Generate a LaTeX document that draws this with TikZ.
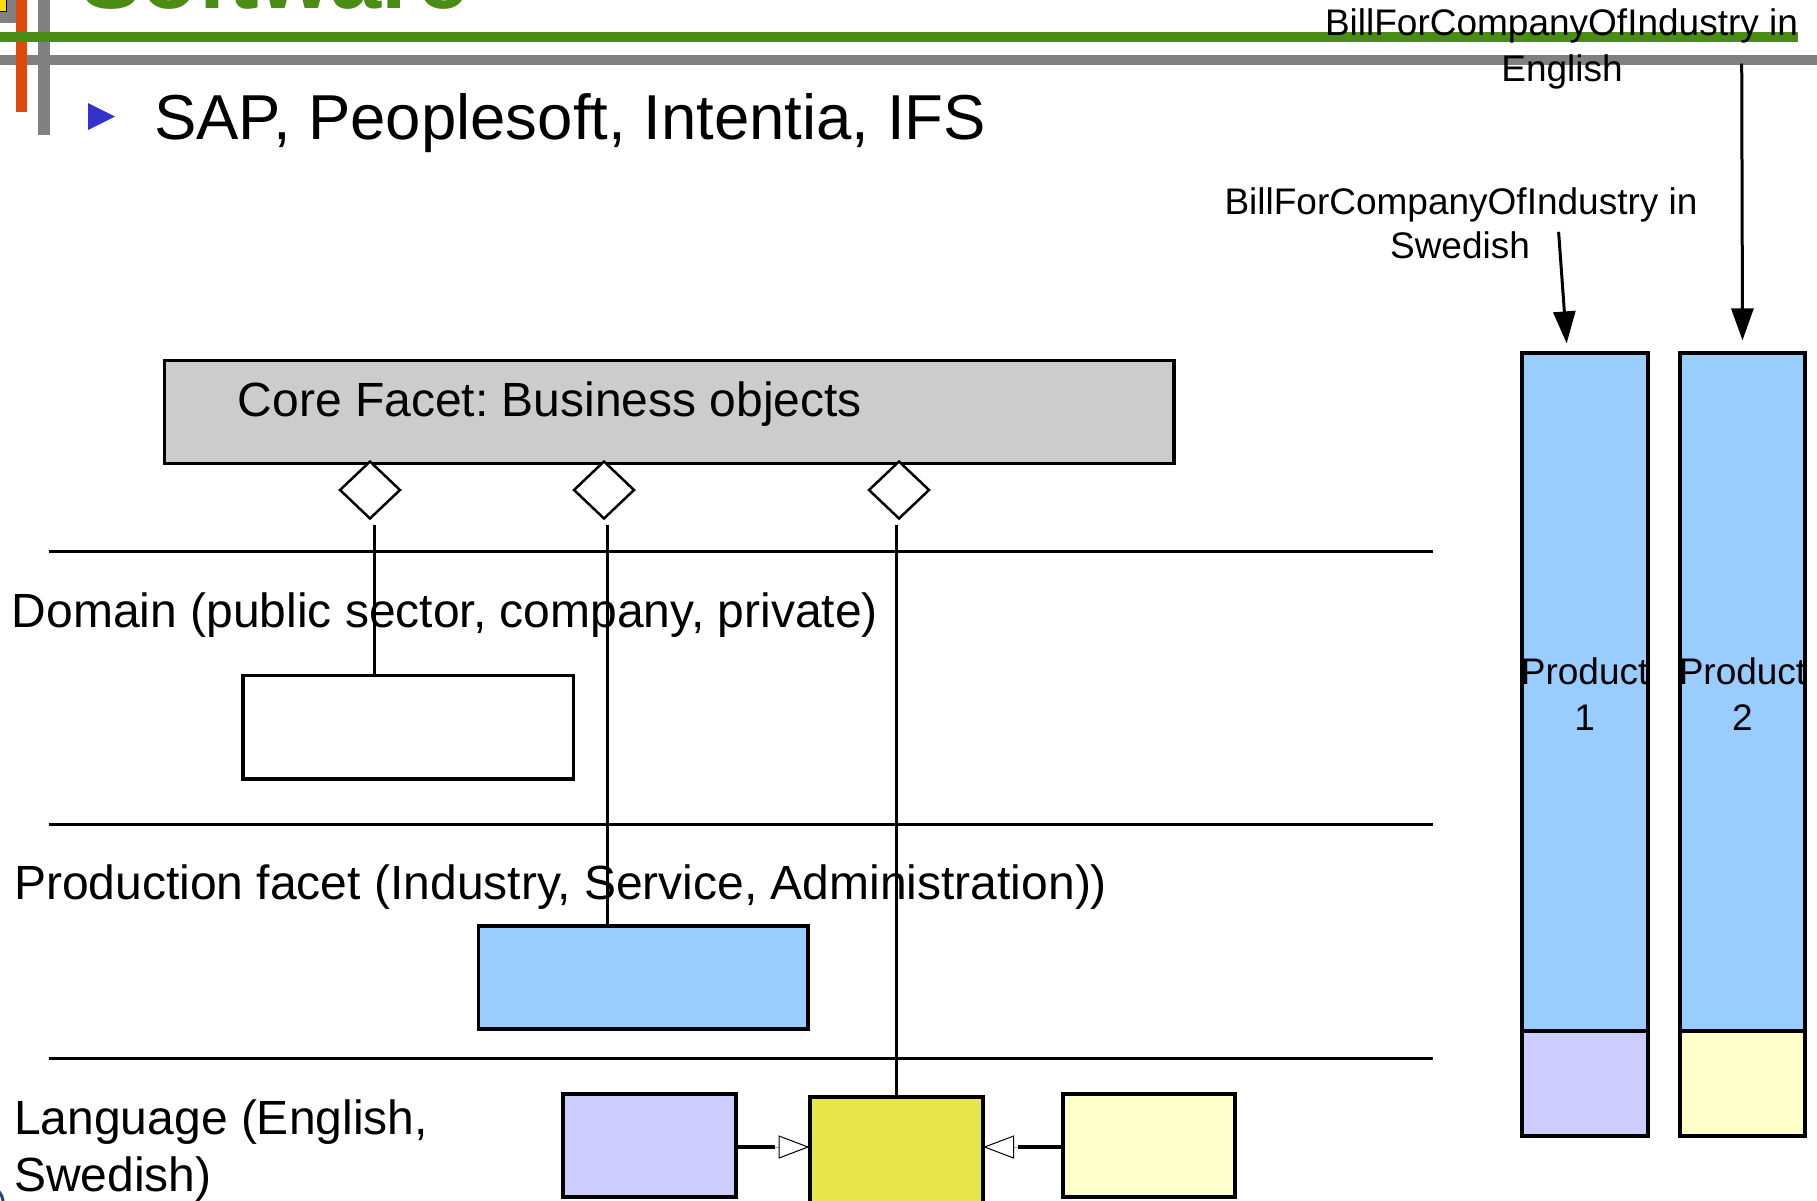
\documentclass[tikz,border=0pt]{standalone}
\usepackage{fontspec}
\setmainfont{Liberation Sans}
\usetikzlibrary{shapes.geometric,arrows.meta}
\frenchspacing
\definecolor{coregray}{HTML}{CCCCCC}
\definecolor{pblue}{HTML}{99CCFF}
\definecolor{plav}{HTML}{CCCCFF}
\definecolor{pyel}{HTML}{E6E64C}
\definecolor{plyel}{HTML}{FFFFCC}
\definecolor{sgreen}{HTML}{4A8C14}
\definecolor{sorange}{HTML}{DD4A10}
\definecolor{sgray}{HTML}{808080}
\definecolor{sbullet}{HTML}{3333CC}
\definecolor{logoblue}{HTML}{24467A}
\begin{document}
\frenchspacing
\begin{tikzpicture}[x=1pt,y=-1pt,
  box/.style n args={2}{draw=black, line width=3.5pt, inner sep=0pt, minimum width=#1pt, minimum height=#2pt},
  dia/.style={draw=black, line width=2.5pt, fill=white, shape=diamond, inner sep=0pt, minimum width=61pt, minimum height=58pt},
  conn/.style={draw=black, line width=3pt},
  sep/.style={draw=black, line width=3pt},
  big/.style={font=\fontsize{48}{56}\selectfont, inner sep=0pt, anchor=base west},
  small/.style={font=\fontsize{37}{45}\selectfont, inner sep=0pt, anchor=base},
  arr/.style={draw=black, line width=3pt, -{Triangle[length=32pt,width=22pt]}},
  hollow/.style={draw=black, line width=1pt, fill=white, line join=miter}
]
\useasboundingbox (0,0) rectangle (1817,1200);
\clip (0,0) rectangle (1817,1200);

% slide decoration
\fill[sgray] (0,0) rectangle (17,23);
\filldraw[fill=yellow!80!orange, draw=black, line width=1pt] (-2,-2) rectangle (6,11);
\draw[sgray, line width=10pt] (0,60) -- (1817,60);
\draw[sgray, line width=12pt] (44,0) -- (44,135);
\draw[sorange, line width=11pt] (21.5,0) -- (21.5,112);
\draw[sgreen, line width=10pt] (0,37) -- (1798,37);
\node[anchor=base west, text=sgreen, font=\bfseries\fontsize{92}{100}\selectfont, inner sep=0pt] (title) at (80,8.5) {Software};
\draw[logoblue, line width=3pt] (-12,1202) circle (15);

% bullet
\fill[sbullet] (88,103) -- (115,116.5) -- (88,130) -- cycle;
\node[anchor=base west, font=\fontsize{63.5}{74}\selectfont, inner sep=0pt] (sap) at (154,139) {SAP, Peoplesoft, Intentia, IFS};

% separators
\draw[sep] (48.7,551.6) -- (1433.4,551.6);
\draw[sep] (48.7,824) -- (1433.4,824);
\draw[sep] (48.7,1058) -- (1433.4,1058);

% core facet
\node[box={1009.5}{103}, fill=coregray] (core) at (669.3,412) {};
\node[big] (coretxt) at (237.6,416) {Core Facet: Business objects};

% diamonds
\node[dia] (d1) at (370,490) {};
\node[dia] (d2) at (604,490) {};
\node[dia] (d3) at (899,490) {};

% level labels
\node[big] (domtxt) at (11.6,627) {Domain (public sector, company, private)};
\node[big] (prodtxt) at (14,899) {Production facet (Industry, Service, Administration))};
\node[big] (lang1) at (14,1134.5) {Language (English,};
\node[big] (lang2) at (14,1191) {Swedish)};

% boxes
\node[box={330.6}{103.1}, fill=white] (dom) at (408.3,727.2) {};
\node[box={329.1}{103}, fill=pblue] (prod) at (643.2,977.5) {};
\node[box={173}{103}, fill=plav, line width=4pt] (lav) at (649.5,1145.5) {};
\node[box={172.6}{106.6}, fill=pyel, line width=4pt] (yel) at (896.3,1150.7) {};
\node[box={172.7}{103}, fill=plyel, line width=4pt] (lyel) at (1149,1145.5) {};

% connectors from diamonds
\draw[conn] ([xshift=4pt,yshift=-5pt]d1.south) -- ([xshift=4pt]d1.south |- dom.north);
\draw[conn] ([xshift=3pt,yshift=-5pt]d2.south) -- ([xshift=3pt]d2.south |- prod.north);
\draw[conn] ([xshift=-3pt,yshift=-5pt]d3.south) -- ([xshift=-3pt]d3.south |- yel.north);

% generalisation arrows at bottom
\coordinate (tipL) at (yel.west |- 0,1147);
\coordinate (tipR) at (yel.east |- 0,1147);
\draw[line width=4pt] (lav.east |- tipL) -- ++(36.6,0) coordinate (lend);
\draw[line width=0.8pt, black!35] (lend) -- ([xshift=-29pt]tipL);
\draw[hollow] (tipL) -- ++(-29,-11) -- ++(0,22) -- cycle;
\draw[line width=4pt] (lyel.west |- tipR) -- ++(-42.6,0) coordinate (rend);
\draw[line width=0.8pt, black!35] (rend) -- ([xshift=29pt]tipR);
\draw[hollow] (tipR) -- ++(29,-11) -- ++(0,22) -- cycle;

% products
\node[box={126.3}{677.6}, fill=pblue, line width=4pt] (p1) at (1584.65,692.2) {};
\node[box={126.3}{104.6}, fill=plav, line width=4pt] (p1b) at (1584.65,1083.3) {};
\node[box={125}{677.6}, fill=pblue, line width=4pt] (p2) at (1742.5,692.2) {};
\node[box={125}{104.6}, fill=plyel, line width=4pt] (p2b) at (1742.5,1083.3) {};
\node[small] (p1t1) at (1584.65,684) {Product};
\node[small] (p1t2) at (1584.65,730) {1};
\node[small] (p2t1) at (1742.5,684) {Product};
\node[small] (p2t2) at (1742.5,730) {2};

% bill labels
\node[small] (en1) at (1561.5,35) {BillForCompanyOfIndustry in};
\node[small] (en2) at (1562,81) {English};
\node[small] (sw1) at (1461,214) {BillForCompanyOfIndustry in};
\node[small] (sw2) at (1460,258) {Swedish};

\coordinate (swStart) at (1558.6,231.8);
\coordinate (enStart) at (1741.7,63.7);
\draw[arr] (swStart) -- ([xshift=-18pt,yshift=8pt]p1.north);
\draw[arr] (enStart) -- ([yshift=11pt]p2.north);
\end{tikzpicture}
\end{document}
